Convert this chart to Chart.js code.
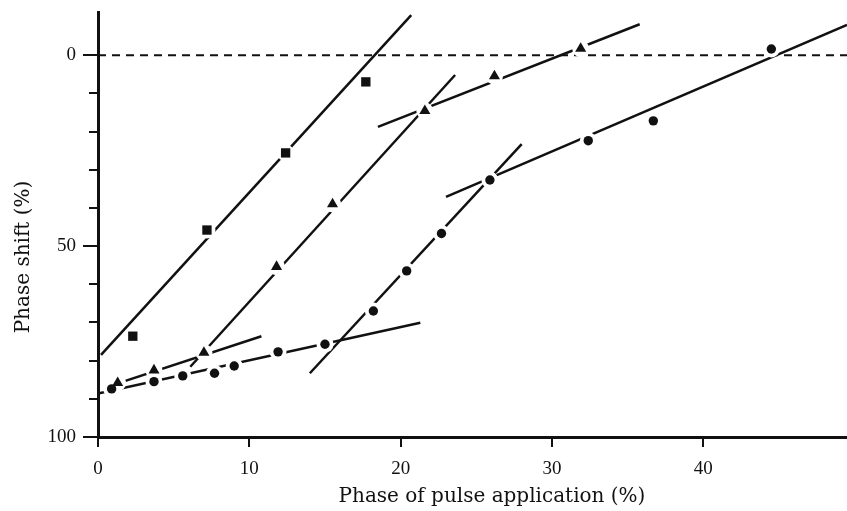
<!DOCTYPE html>
<html>
<head>
<meta charset="utf-8">
<script src="https://cdn.jsdelivr.net/npm/chart.js@4.4.1/dist/chart.umd.min.js"></script>
<style>
  html, body { margin: 0; padding: 0; background: #fff; }
  #wrap { width: 847px; height: 511px; }
</style>
</head>
<body>
<div id="wrap"><canvas id="chart" width="847" height="511"></canvas></div>
<script>
// phase of pulse (%) vs phase shift (%)
var squareX = [2.3, 7.2, 12.4, 17.7];
var squareY = [73.6, 45.8, 25.6, 7.0];

var triangleX = [1.3, 3.7, 7.0, 11.8, 15.5, 21.6, 26.2, 31.9];
var triangleY = [85.8, 82.5, 77.9, 55.4, 39.0, 14.6, 5.5, -1.7];

var circleX = [0.9, 3.7, 5.6, 7.7, 9.0, 11.9, 15.0, 18.2, 20.4, 22.7, 25.9, 32.4, 36.7, 44.5];
var circleY = [87.4, 85.5, 84.0, 83.3, 81.4, 77.7, 75.7, 67.0, 56.5, 46.7, 32.7, 22.4, 17.2, -1.6];

// fitted straight lines (start / end points)
var fitX1 = [0.2, 0.5, 6.1, 18.5, 0.0, 14.0, 23.0];
var fitY1 = [78.5, 87.0, 81.6, 18.8, 88.6, 83.3, 37.1];
var fitX2 = [20.7, 10.8, 23.6, 35.8, 21.3, 28.0, 49.5];
var fitY2 = [-10.5, 73.6, 5.2, -8.1, 70.1, 23.3, -7.9];

var xTicks = [0, 10, 20, 30, 40];
var yLabelTicks = [0, 50, 100];
var yMinorTicks = [0, 10, 20, 30, 40, 50, 60, 70, 80, 90, 100];

var xMax = 49.5;
var yMin = -11.3;
var xTitle = 'Phase of pulse application (%)';
var yTitle = 'Phase shift (%)';

var ink = '#111';

function pts(xs, ys) {
    return xs.map(function (x, i) { return { x: x, y: ys[i] }; });
}

var datasets = [];

fitX1.forEach(function (x, i) {
    datasets.push({
        data: [{ x: x, y: fitY1[i] }, { x: fitX2[i], y: fitY2[i] }],
        showLine: true,
        borderColor: ink,
        borderWidth: 2.5,
        pointRadius: 0,
        order: 4
    });
});

// dotted reference line at zero shift
datasets.push({
    data: [{ x: 0, y: 0 }, { x: xMax, y: 0 }],
    showLine: true,
    borderColor: ink,
    borderWidth: 2,
    borderDash: [8, 6],
    pointRadius: 0,
    order: 5
});

// white halos under the markers break the lines like in the print
[[squareX, squareY], [triangleX, triangleY], [circleX, circleY]].forEach(function (s) {
    datasets.push({
        data: pts(s[0], s[1]),
        showLine: false,
        pointStyle: 'circle',
        pointRadius: 8.5,
        pointBackgroundColor: '#fff',
        pointBorderWidth: 0,
        order: 2
    });
});

datasets.push({
    data: pts(squareX, squareY), showLine: false, pointStyle: 'rect',
    pointRadius: 6.6, pointBackgroundColor: ink, pointBorderWidth: 0, order: 1
});
datasets.push({
    data: pts(triangleX, triangleY), showLine: false, pointStyle: 'triangle',
    pointRadius: 6.4, pointBackgroundColor: ink, pointBorderWidth: 0, order: 1
});
datasets.push({
    data: pts(circleX, circleY), showLine: false, pointStyle: 'circle',
    pointRadius: 4.7, pointBackgroundColor: ink, pointBorderWidth: 0, order: 1
});

var axisTitles = {
    id: 'axisTitles',
    afterDraw: function (chart) {
        var ctx = chart.ctx;
        ctx.save();
        ctx.fillStyle = ink;
        ctx.font = '20px "DejaVu Serif"';
        ctx.textAlign = 'center';
        ctx.textBaseline = 'middle';
        ctx.fillText(xTitle, 492, 497);
        ctx.translate(24, 257);
        ctx.rotate(-Math.PI / 2);
        ctx.fillText(yTitle, 0, 0);
        ctx.restore();
    }
};

var tickFont = { family: 'Liberation Serif', size: 19 };

function noPad(s) {
    s.paddingLeft = 0;
    s.paddingRight = 0;
    s.paddingTop = 0;
    s.paddingBottom = 0;
}

new Chart(document.getElementById('chart').getContext('2d'), {
    type: 'scatter',
    data: { datasets: datasets },
    options: {
        responsive: false,
        animation: false,
        layout: { autoPadding: false, padding: { top: 12, left: 0, right: 0, bottom: 0 } },
        plugins: {
            legend: { display: false },
            tooltip: { enabled: false }
        },
        scales: {
            x: {
                type: 'linear',
                min: 0,
                max: xMax,
                afterBuildTicks: function (s) {
                    s.ticks = xTicks.map(function (v) { return { value: v }; });
                },
                afterFit: function (s) { s.height = 74; noPad(s); },
                border: { display: true, color: ink, width: 3 },
                grid: { drawOnChartArea: false, drawTicks: true, tickLength: 10, color: ink, tickColor: ink, lineWidth: 2 },
                ticks: { color: ink, font: tickFont, padding: 11, maxRotation: 0, autoSkip: false }
            },
            y: {
                type: 'linear',
                position: 'left',
                reverse: true,
                min: yMin,
                max: 100,
                weight: 1,
                afterBuildTicks: function (s) {
                    s.ticks = yLabelTicks.map(function (v) { return { value: v }; });
                },
                afterFit: function (s) { s.width = 98; noPad(s); },
                border: { display: true, color: ink, width: 3 },
                grid: { drawOnChartArea: false, drawTicks: true, tickLength: 15, color: ink, tickColor: ink, lineWidth: 2 },
                ticks: { color: ink, font: tickFont, padding: 7 }
            },
            yMinor: {
                type: 'linear',
                position: 'left',
                reverse: true,
                min: yMin,
                max: 100,
                weight: 0,
                afterBuildTicks: function (s) {
                    s.ticks = yMinorTicks.map(function (v) { return { value: v }; });
                },
                afterFit: function (s) { s.width = 0; noPad(s); },
                border: { display: false },
                grid: { drawOnChartArea: false, drawTicks: true, tickLength: 9, color: ink, tickColor: ink, lineWidth: 2 },
                ticks: { display: false }
            }
        }
    },
    plugins: [axisTitles]
});
</script>
</body>
</html>
